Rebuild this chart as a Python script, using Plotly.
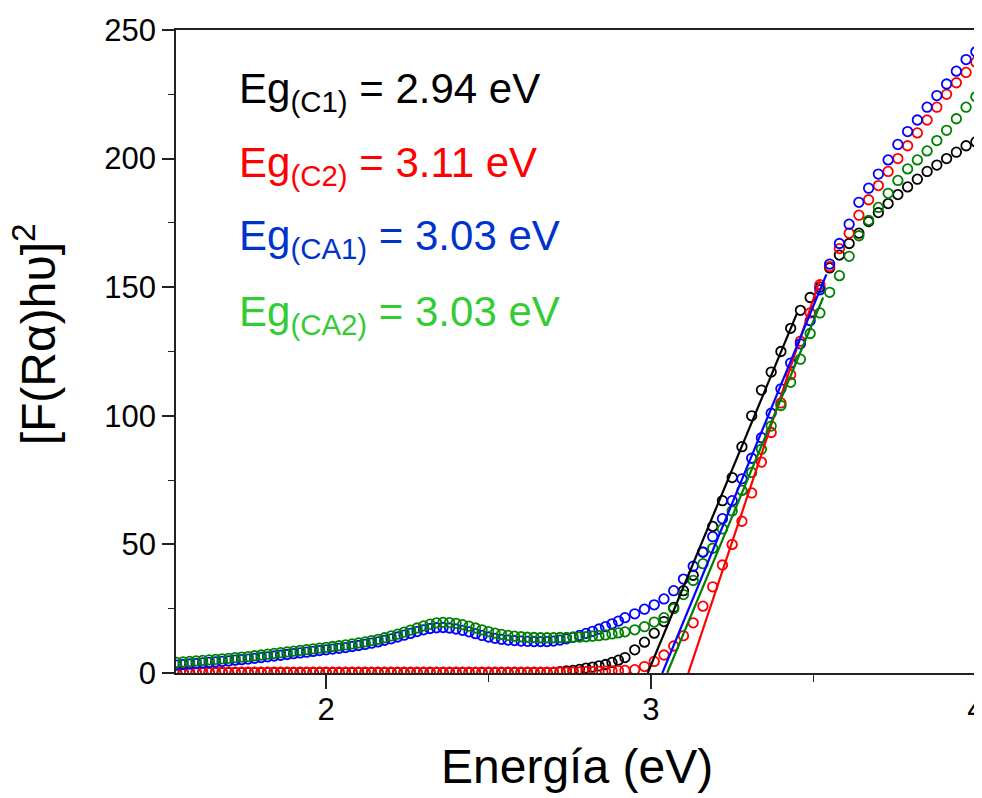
import plotly.graph_objects as go

# ---------------- data ----------------
energy_low = [1.54, 1.56, 1.58, 1.60, 1.62, 1.64, 1.66, 1.68, 1.70, 1.72,
              1.74, 1.76, 1.78, 1.80, 1.82, 1.84, 1.86, 1.88, 1.90, 1.92,
              1.94, 1.96, 1.98, 2.00, 2.02, 2.04, 2.06, 2.08, 2.10, 2.12,
              2.14, 2.16, 2.18, 2.20, 2.22, 2.24, 2.26, 2.28, 2.30, 2.32,
              2.34, 2.36, 2.38, 2.40, 2.42, 2.44, 2.46, 2.48, 2.50, 2.52,
              2.54, 2.56, 2.58, 2.60, 2.62, 2.64, 2.66, 2.68, 2.70, 2.72,
              2.74, 2.76, 2.78, 2.80, 2.82, 2.84, 2.86, 2.88, 2.90]
energy_high = [2.92, 2.95, 2.98, 3.01, 3.04, 3.07, 3.10, 3.13, 3.16, 3.19,
               3.22, 3.25, 3.28, 3.31, 3.34, 3.37, 3.40, 3.43, 3.46, 3.49,
               3.52, 3.55, 3.58, 3.61, 3.64, 3.67, 3.70, 3.73, 3.76, 3.79,
               3.82, 3.85, 3.88, 3.91, 3.94, 3.97, 4.00]

c1_low = [0.2, 0.2, 0.2, 0.2, 0.2, 0.2, 0.2, 0.2, 0.2, 0.2,
          0.2, 0.2, 0.2, 0.2, 0.2, 0.2, 0.2, 0.2, 0.2, 0.2,
          0.2, 0.2, 0.2, 0.2, 0.2, 0.2, 0.2, 0.2, 0.2, 0.2,
          0.2, 0.2, 0.2, 0.2, 0.2, 0.2, 0.2, 0.2, 0.2, 0.2,
          0.2, 0.2, 0.2, 0.2, 0.2, 0.2, 0.2, 0.2, 0.2, 0.2,
          0.2, 0.2, 0.2, 0.2, 0.2, 0.2, 0.2, 0.2, 0.2, 0.5,
          0.8, 1.0, 1.4, 1.9, 2.3, 2.8, 3.3, 4.1, 5.0]
c1_high = [6.0, 9.0, 12.0, 15.5, 20.0, 25.5, 32.0, 38.0, 47.0, 57.0,
           67.0, 76.0, 88.0, 100.0, 110.0, 117.0, 125.0, 134.0, 141.0, 146.0,
           150.0, 157.5, 162.5, 167.0, 171.0, 175.5, 179.0, 182.5, 186.0, 189.0,
           192.0, 195.0, 197.5, 200.0, 202.5, 205.0, 206.5]

c2_low = [0.3, 0.3, 0.3, 0.3, 0.3, 0.3, 0.3, 0.3, 0.3, 0.3,
          0.3, 0.3, 0.3, 0.3, 0.3, 0.3, 0.3, 0.3, 0.3, 0.3,
          0.3, 0.3, 0.3, 0.3, 0.3, 0.3, 0.3, 0.3, 0.3, 0.3,
          0.3, 0.3, 0.3, 0.3, 0.3, 0.3, 0.3, 0.3, 0.3, 0.3,
          0.3, 0.3, 0.3, 0.3, 0.3, 0.3, 0.3, 0.3, 0.3, 0.3,
          0.3, 0.3, 0.3, 0.3, 0.3, 0.3, 0.3, 0.3, 0.3, 0.3,
          0.3, 0.35, 0.4, 0.5, 0.55, 0.65, 0.7, 0.8, 0.9]
c2_high = [1.0, 1.3, 2.5, 4.5, 7.0, 10.5, 14.5, 19.5, 26.0, 33.5,
           42.0, 50.0, 59.0, 70.0, 82.0, 93.5, 105.0, 116.0, 129.0, 140.0,
           151.0, 158.0, 165.0, 171.0, 178.0, 184.0, 189.5, 195.0, 200.0, 205.0,
           210.0, 215.0, 220.0, 225.0, 229.5, 233.5, 237.5]

ca1_low = [3.1, 3.3, 3.5, 3.7, 3.9, 4.1, 4.3, 4.5, 4.7, 5.0,
           5.2, 5.4, 5.7, 6.0, 6.3, 6.6, 6.9, 7.2, 7.5, 7.8,
           8.1, 8.4, 8.7, 9.0, 9.3, 9.6, 9.9, 10.3, 10.7, 11.1,
           11.6, 12.1, 12.7, 13.3, 14.0, 14.7, 15.4, 16.1, 16.8, 17.3,
           17.6, 17.7, 17.5, 17.1, 16.6, 16.0, 15.3, 14.6, 14.0, 13.5,
           13.1, 12.8, 12.6, 12.4, 12.3, 12.2, 12.2, 12.2, 12.4, 12.8,
           13.3, 13.9, 14.6, 15.4, 16.2, 17.1, 18.0, 19.1, 20.2]
ca1_high = [21.5, 23.0, 24.8, 26.5, 28.8, 32.0, 36.5, 41.5, 47.0, 53.0,
            60.0, 67.0, 75.5, 83.5, 91.5, 101.0, 110.5, 120.5, 128.0, 137.0,
            149.0, 159.0, 167.0, 174.5, 183.0, 188.5, 194.0, 199.5, 205.5, 210.5,
            215.0, 220.0, 224.5, 229.0, 234.0, 238.5, 241.5]

ca2_low = [4.1, 4.3, 4.5, 4.7, 4.9, 5.1, 5.3, 5.5, 5.7, 6.0,
           6.2, 6.4, 6.7, 7.0, 7.3, 7.6, 7.9, 8.2, 8.5, 8.8,
           9.1, 9.4, 9.7, 10.0, 10.3, 10.6, 10.9, 11.3, 11.7, 12.1,
           12.6, 13.1, 13.7, 14.4, 15.1, 15.9, 16.7, 17.5, 18.3, 19.0,
           19.5, 19.7, 19.6, 19.3, 18.8, 18.2, 17.5, 16.8, 16.1, 15.5,
           15.0, 14.6, 14.3, 14.1, 13.9, 13.8, 13.7, 13.7, 13.7, 13.8,
           13.8, 13.9, 14.0, 14.1, 14.3, 14.5, 14.8, 15.2, 15.6]
ca2_high = [16.0, 16.8, 18.0, 19.8, 21.5, 25.0, 30.5, 36.0, 42.5, 48.5,
            56.0, 63.0, 71.0, 78.0, 87.0, 96.0, 104.0, 113.0, 122.0, 132.0,
            140.0, 148.0, 154.5, 162.0, 170.0, 176.0, 181.0, 186.5, 191.5, 196.0,
            199.5, 203.0, 207.0, 211.0, 215.5, 220.0, 224.0]

fit_c1_x, fit_c1_y = [2.99, 3.45], [0, 140]
fit_c2_x, fit_c2_y = [3.115, 3.52], [0, 153]
fit_ca1_x, fit_ca1_y = [3.035, 3.54], [0, 155]
fit_ca2_x, fit_ca2_y = [3.05, 3.53], [0, 146]

sample_names = ["C1", "C2", "CA1", "CA2"]
gap_labels = ["2.94", "3.11", "3.03", "3.03"]
x_ticks = [2, 3, 4]
y_ticks = [0, 50, 100, 150, 200, 250]

# ---------------- figure ----------------
FONT = "Liberation Sans, Arial, sans-serif"
marker_colors = ["#000000", "#FF0000", "#0000FF", "#008000"]
text_colors = ["#000000", "#FF0000", "#0033CC", "#33CC33"]

series_y = [c1_low + c1_high, c2_low + c2_high, ca1_low + ca1_high, ca2_low + ca2_high]
energy = energy_low + energy_high
fits = [(fit_c1_x, fit_c1_y), (fit_c2_x, fit_c2_y), (fit_ca1_x, fit_ca1_y), (fit_ca2_x, fit_ca2_y)]

fig = go.Figure()
for name, ys, col in zip(sample_names, series_y, marker_colors):
    fig.add_trace(go.Scatter(
        x=energy, y=ys, mode="markers", name=name,
        marker=dict(symbol="circle-open", size=9.5, color=col, line=dict(width=1.8, color=col)),
        showlegend=False))
for name, (fx, fy), col in zip(sample_names, fits, marker_colors):
    fig.add_trace(go.Scatter(
        x=fx, y=fy, mode="lines", name=name + " fit",
        line=dict(color=col, width=2.2), showlegend=False))

# Eg annotations
ann_y = [0.905, 0.79, 0.675, 0.558]
for name, gap, col, yy in zip(sample_names, gap_labels, text_colors, ann_y):
    fig.add_annotation(
        x=0.076, y=yy, xref="paper", yref="paper", xanchor="left", yanchor="middle",
        text=f"Eg<sub>({name})</sub> = {gap} eV", showarrow=False,
        font=dict(family=FONT, size=42, color=col))

# axis titles
fig.add_annotation(x=-0.176, y=0.527, xref="paper", yref="paper",
                   xanchor="center", yanchor="middle", textangle=-90,
                   text="[F(R\u03b1)h\u03c5]<sup>2</sup>", showarrow=False,
                   font=dict(family=FONT, size=48, color="black"))
fig.add_annotation(x=0.501, y=-0.145, xref="paper", yref="paper",
                   xanchor="center", yanchor="middle",
                   text="Energía (eV)", showarrow=False,
                   font=dict(family=FONT, size=48, color="black"))

axis_common = dict(showline=True, linecolor="#222222", linewidth=1.6, mirror=True,
                   showgrid=False, zeroline=False, ticks="outside",
                   tickwidth=1.6, tickcolor="#222222", automargin=False,
                   tickfont=dict(family=FONT, size=31, color="black"))
fig.update_xaxes(range=[1.538, 4.0005], tickvals=x_ticks, ticktext=[str(v) for v in x_ticks],
                 ticklen=14, ticklabelstandoff=-6,
                 minor=dict(ticks="outside", ticklen=7, dtick=0.5, tick0=0,
                            tickwidth=1.4, tickcolor="#222222"),
                 **axis_common)
fig.update_yaxes(range=[0, 250], tickvals=y_ticks, ticktext=[str(v) for v in y_ticks],
                 ticklen=12,
                 minor=dict(ticks="outside", ticklen=6, dtick=25, tick0=0,
                            tickwidth=1.4, tickcolor="#222222"),
                 **axis_common)

# page body has an 8px margin; size/margins compensate so the plot box sits
# at x 176..976, y 30..673 in the window
fig.update_layout(width=980, height=790, margin=dict(l=168, r=12, t=22, b=125, autoexpand=False),
                  paper_bgcolor="white", plot_bgcolor="white", showlegend=False)

fig.write_html("out.html")
